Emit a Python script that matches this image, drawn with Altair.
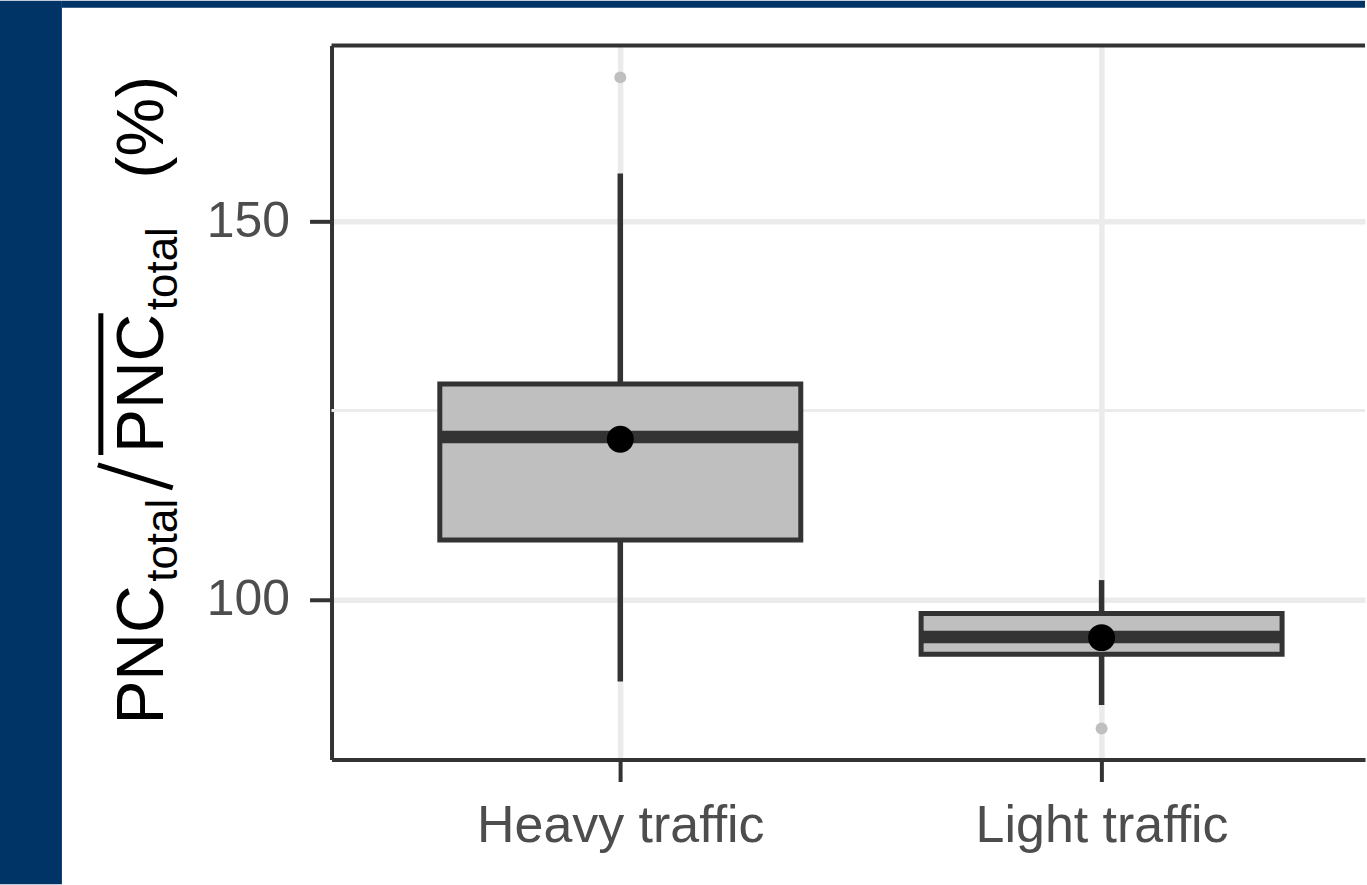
import altair as alt
import pandas as pd

# Box-plot summary of normalised particle number concentration per traffic class
categories = ["Heavy traffic", "Light traffic"]
q1 = [107.9, 92.8]
median = [121.5, 95.1]
q3 = [128.5, 98.2]
whisker_low = [89.2, 86.1]
whisker_high = [156.3, 102.6]
means = [121.2, 95.0]

outlier_cat = ["Heavy traffic", "Light traffic"]
outlier_val = [169.0, 83.0]

y_breaks = [100, 150]
y_minor_breaks = [125]

# layout constants (pixels)
PLOT_W = 1035
PLOT_H = 715
STEP = 482            # pixel distance between category centres
BOX_HALF = 0.375      # half box width, in category units

FONT = "Liberation Sans"
INK = "#333333"
GRID = "#ebebeb"
BLUE = "#003366"

x_domain = [0.4, 0.4 + PLOT_W / STEP]
y_domain = [78.9, 173.2]

summary = pd.DataFrame({
    "cat": categories,
    "pos": [i + 1 for i in range(len(categories))],
    "q1": q1, "median": median, "q3": q3,
    "lo": whisker_low, "hi": whisker_high, "mean": means,
})
summary["left"] = summary["pos"] - BOX_HALF
summary["right"] = summary["pos"] + BOX_HALF

outliers = pd.DataFrame({
    "cat": outlier_cat,
    "pos": [categories.index(c) + 1 for c in outlier_cat],
    "value": outlier_val,
})
minor = pd.DataFrame({"y": y_minor_breaks})
one = pd.DataFrame({"k": [0]})

x_axis = alt.Axis(
    values=list(range(1, len(categories) + 1)),
    labelExpr=f"{categories!r}[datum.value - 1]",
    title=None, grid=True, gridColor=GRID, gridWidth=5.5,
    domainColor=INK, domainWidth=4, tickColor=INK, tickWidth=4, tickSize=22,
    labelFont=FONT, labelFontSize=52, labelColor="#4d4d4d", labelPadding=19,
    labelAngle=0, labelFlush=False, labelOverlap=False, labelLimit=0,
)
y_axis = alt.Axis(
    values=y_breaks, title=None, grid=True, gridColor=GRID, gridWidth=5.5,
    domainColor=INK, domainWidth=4, tickColor=INK, tickWidth=4, tickSize=22,
    labelFont=FONT, labelFontSize=50, labelColor="#4d4d4d", labelPadding=20,
    labelLimit=0,
)
x_scale = alt.Scale(domain=x_domain, nice=False, zero=False)
y_scale = alt.Scale(domain=y_domain, nice=False, zero=False)


def xq(field):
    return alt.X(f"{field}:Q", scale=x_scale, axis=x_axis)


def yq(field):
    return alt.Y(f"{field}:Q", scale=y_scale, axis=y_axis)


# minor horizontal grid line
minor_grid = alt.Chart(minor).mark_rule(color=GRID, strokeWidth=3).encode(
    y=yq("y"), x=alt.value(0), x2=alt.value(PLOT_W)
)

whiskers = alt.Chart(summary).mark_rule(color=INK, strokeWidth=5.5).encode(
    x=xq("pos"), y=yq("lo"), y2="hi"
)

boxes = alt.Chart(summary).mark_rect(
    fill="#bfbfbf", stroke=INK, strokeWidth=5
).encode(x=xq("left"), x2="right", y=yq("q1"), y2="q3")

medians = alt.Chart(summary).mark_rule(color=INK, strokeWidth=12.5).encode(
    x=xq("left"), x2="right", y=yq("median")
)

mean_pts = alt.Chart(summary).mark_point(
    filled=True, color="black", opacity=1, size=729, shape="circle"
).encode(x=xq("pos"), y=yq("mean"))

outlier_pts = alt.Chart(outliers).mark_point(
    filled=True, color="#bfbfbf", opacity=1, size=144, shape="circle"
).encode(x=xq("pos"), y=yq("value"))

# top edge of the panel frame
top_border = alt.Chart(one).mark_rule(color=INK, strokeWidth=4).encode(
    x=alt.value(0), x2=alt.value(PLOT_W), y=alt.value(0)
)

# blue page frame on the left and top
frame_left = alt.Chart(one).mark_rect(color=BLUE).encode(
    x=alt.value(-332), x2=alt.value(-270), y=alt.value(-45), y2=alt.value(840)
)
frame_top = alt.Chart(one).mark_rect(color=BLUE).encode(
    x=alt.value(-270), x2=alt.value(PLOT_W), y=alt.value(-45), y2=alt.value(-38)
)


# y-axis title: PNC_total / overline(PNC)_total  (%)
def title_text(text, x, y, size):
    return alt.Chart(one).mark_text(
        text=text, angle=270, align="left", baseline="alphabetic",
        font=FONT, fontSize=size, color="black"
    ).encode(x=alt.value(x), y=alt.value(y))


title_parts = [
    title_text("PNC", -169, 680, 66),
    title_text("total", -155, 537, 44),
    title_text("PNC", -169, 408, 66),
    title_text("total", -155, 265, 44),
    title_text("(%)", -169, 133, 66),
]
slash = alt.Chart(one).mark_rule(color="black", strokeWidth=5).encode(
    x=alt.value(-159), y=alt.value(443), x2=alt.value(-234), y2=alt.value(420)
)
overline = alt.Chart(one).mark_rule(color="black", strokeWidth=5).encode(
    x=alt.value(-231), y=alt.value(410), y2=alt.value(268)
)

chart = alt.layer(
    frame_left, frame_top, minor_grid, whiskers, boxes, medians,
    mean_pts, outlier_pts, top_border, slash, overline, *title_parts
).properties(
    width=PLOT_W, height=PLOT_H, padding=0, background="white"
).configure_view(stroke=None)

chart.save("out.html", embed_options={"renderer": "svg", "actions": False})
